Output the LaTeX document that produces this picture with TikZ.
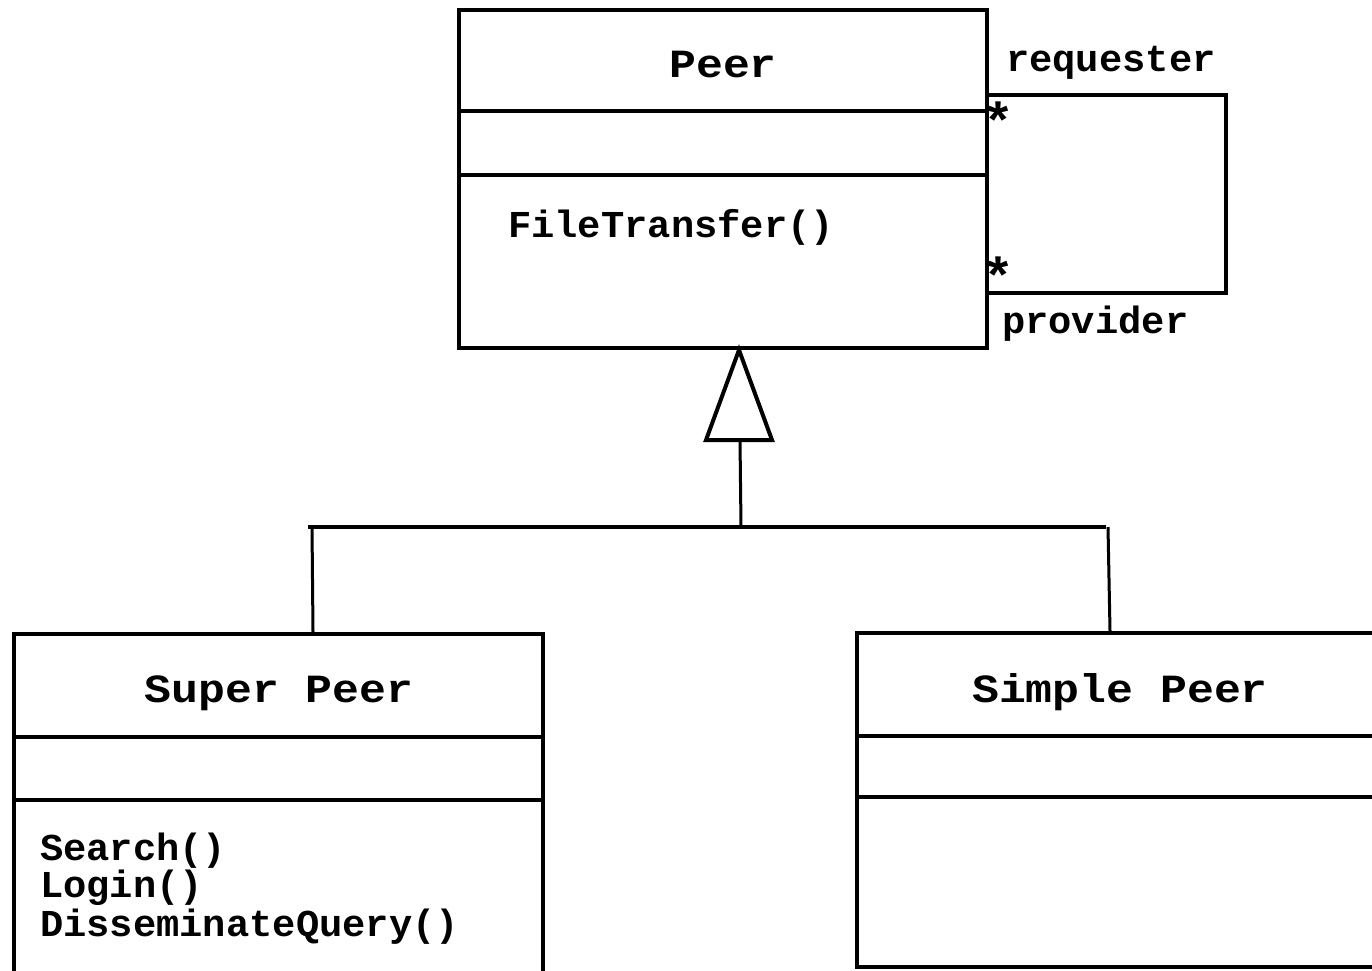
\documentclass[tikz,border=0pt]{standalone}
\usepackage{fontspec}
\usetikzlibrary{calc}
% class names and member/role texts
\newfontfamily\namefont{Liberation Mono}[FakeStretch=1.12]
\newfontfamily\memberfont{Liberation Mono}[FakeStretch=1.02]

\tikzset{
  classbox/.style={draw, line width=4pt, rectangle, inner sep=0pt, fill=white},
  divider/.style={line width=4pt},
  conn/.style={line width=3pt},
  bar/.style={line width=4pt},
  gentri/.style={line width=4pt, line join=miter, fill=white},
  namelbl/.style={inner sep=0pt, font=\namefont\bfseries\fontsize{40pt}{44pt}\selectfont},
  memberlbl/.style={inner sep=0pt, font=\memberfont\bfseries\fontsize{38pt}{42pt}\selectfont},
  multlbl/.style={inner sep=0pt, font=\memberfont\bfseries\fontsize{52pt}{56pt}\selectfont},
}

\begin{document}
\begin{tikzpicture}[x=1pt, y=-1pt]
\useasboundingbox (0,0) rectangle (1372,970);
\clip (0,0) rectangle (1372,970);

% ---- Peer ----
\node[classbox, minimum width=528pt, minimum height=338pt] (peer) at (723,179) {};
\draw[divider] (peer.west |- 0,111) -- (peer.east |- 0,111);
\draw[divider] (peer.west |- 0,175) -- (peer.east |- 0,175);
\node[namelbl, anchor=base] (peerName) at (723,77) {Peer};
\node[memberlbl, anchor=base west] (peerOp) at (508,237) {FileTransfer()};

% ---- self association requester/provider ----
\coordinate (reqEnd) at (peer.east |- 0,95);
\coordinate (provEnd) at (peer.east |- 0,293);
\coordinate (loopA) at (1226,95);
\coordinate (loopB) at (1226,293);
\draw[divider] (reqEnd) -- (loopA) -- (loopB) -- (provEnd);
\node[memberlbl, anchor=base west] (reqRole) at (1006,71) {requester};
\node[memberlbl, anchor=base west] (provRole) at (1002,333) {provider};
\node[multlbl, anchor=base] (reqMult) at (998,139) {*};
\node[multlbl, anchor=base] (provMult) at (998,294) {*};

% ---- Super Peer ----
\node[classbox, minimum width=529pt, minimum height=370pt] (super) at (278.5,819) {};
\draw[divider] (super.west |- 0,737) -- (super.east |- 0,737);
\draw[divider] (super.west |- 0,800) -- (super.east |- 0,800);
\node[namelbl, anchor=base] (superName) at (279,702) {Super Peer};
\node[memberlbl, anchor=base west] (superOp1) at (40,860) {Search()};
\node[memberlbl, anchor=base west] (superOp2) at (40,897) {Login()};
\node[memberlbl, anchor=base west] (superOp3) at (40,936) {DisseminateQuery()};

% ---- Simple Peer ----
\node[classbox, minimum width=540pt, minimum height=334pt] (simple) at (1127,800) {};
\draw[divider] (simple.west |- 0,736) -- (simple.east |- 0,736);
\draw[divider] (simple.west |- 0,797) -- (simple.east |- 0,797);
\node[namelbl, anchor=base] (simpleName) at (1120,702) {Simple Peer};

% ---- generalization ----
\coordinate (apex) at (peer.south -| 739,0);
\coordinate (triL) at (706,440);
\coordinate (triR) at (772,440);
\coordinate (triBase) at (740,440);
\coordinate (jM) at (741,527);
\coordinate (jL) at (308,527);
\coordinate (jR) at (1106,527);
\coordinate (dropL) at (312,527);
\coordinate (dropR) at (1108,527);
\draw[gentri] (apex) -- (triL) -- (triR) -- cycle;
\draw[conn] (triBase) -- (jM);
\draw[bar] (jL) -- (jR);
\draw[conn] (dropL) -- (super.north -| 313,0);
\draw[conn] (dropR) -- (simple.north -| 1110,0);
\end{tikzpicture}
\end{document}
